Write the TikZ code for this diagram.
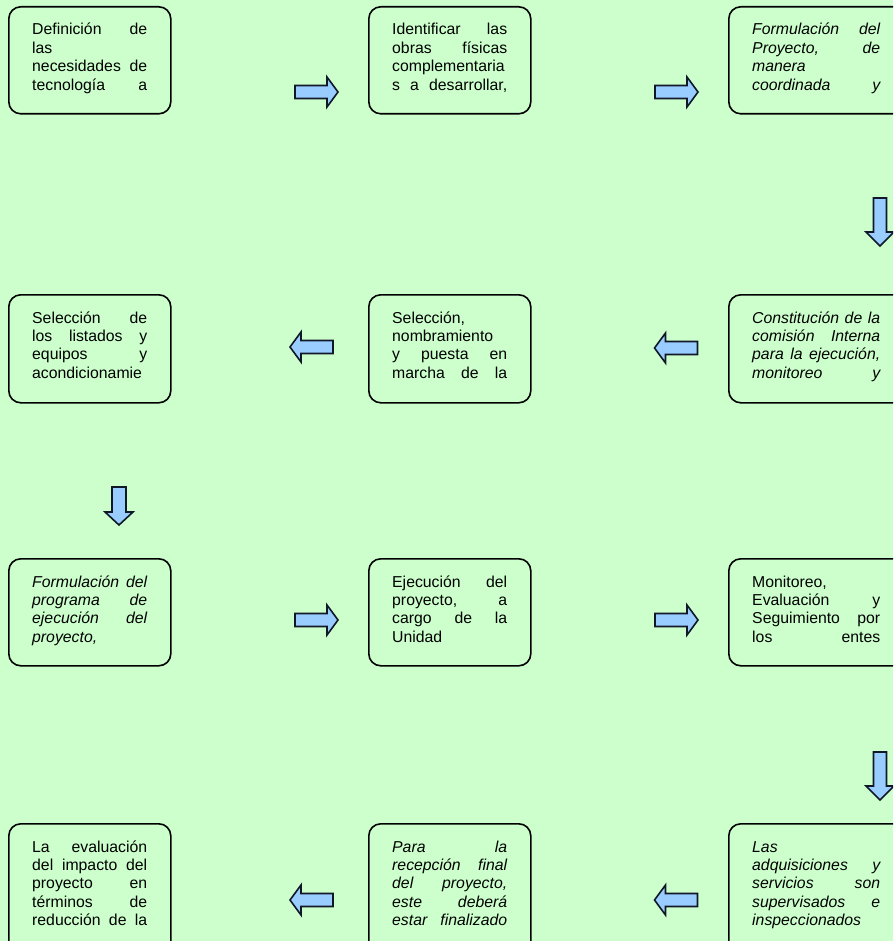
\documentclass[tikz,border=0pt]{standalone}
\usepackage{fontspec}
\setmainfont{Liberation Sans}
\definecolor{bgreen}{HTML}{CCFFCC}
\definecolor{afill}{HTML}{99CCFF}
\definecolor{aline}{HTML}{101828}
\newcommand{\jln}[1]{\makebox[115pt][s]{#1}}
\newcommand{\lln}[1]{\makebox[115pt][l]{#1}}
\newcommand{\jrn}[1]{\makebox[128pt][s]{#1}}
\newcommand{\lrn}[1]{\makebox[128pt][l]{#1}}
\tikzset{
  flowbox/.style={draw=black, line width=1.6pt, rounded corners=12pt, fill=bgreen,
    anchor=north west, inner sep=0pt, minimum width=162pt, minimum height=107pt},
  widebox/.style={flowbox, minimum width=180pt},
  txt/.style={anchor=base west, inner sep=0pt, font=\fontsize{15.8}{18.4}\selectfont},
  blockarrow/.style={draw=aline, line width=1.6pt, fill=afill, line join=miter},
  rarr/.pic={\path[blockarrow] (-21.5,-6.5) -- (10.5,-6.5) -- (10.5,-15) -- (21.5,0) -- (10.5,15) -- (10.5,6.5) -- (-21.5,6.5) -- cycle;},
  darr/.pic={\path[blockarrow] (-6.5,-24) -- (-6.5,10) -- (-14,10) -- (0,24) -- (14,10) -- (6.5,10) -- (6.5,-24) -- cycle;},
  sdarr/.pic={\path[blockarrow] (-7,-19) -- (-7,6) -- (-14,6) -- (0,19) -- (14,6) -- (7,6) -- (7,-19) -- cycle;}
}
\begin{document}
\begin{tikzpicture}[x=1pt,y=-1pt]
\useasboundingbox (0,0) rectangle (893,941);
\clip (0,0) rectangle (893,941);
\fill[bgreen] (0,0) rectangle (893,941);

% Row 1
\node[flowbox] (b1) at (8,6) {};
\node[txt] (t1) at ([xshift=24pt,yshift=-29pt]b1.north west) {\parbox[t]{115pt}{\jln{Definición de}\\\lln{las}\\\jln{necesidades de}\\\jln{tecnología a}}};
\node[flowbox] (b2) at (368,6) {};
\node[txt] (t2) at ([xshift=24pt,yshift=-29pt]b2.north west) {\parbox[t]{115pt}{\jln{Identificar las}\\\jln{obras físicas}\\\jln{complementaria}\\\jln{s a desarrollar,}}};
\node[widebox] (b3) at (728,6) {};
\node[txt] (t3) at ([xshift=24pt,yshift=-29pt]b3.north west) {\parbox[t]{128pt}{\itshape\jrn{Formulación del}\\\jrn{Proyecto, de}\\\lrn{manera}\\\jrn{coordinada y}}};

% Row 2
\node[flowbox, minimum height=108pt] (b4) at (8,294) {};
\node[txt] (t4) at ([xshift=24pt,yshift=-29pt]b4.north west) {\parbox[t]{115pt}{\jln{Selección de}\\\jln{los listados y}\\\jln{equipos y}\\\jln{acondicionamie}}};
\node[flowbox, minimum height=108pt] (b5) at (368,294) {};
\node[txt] (t5) at ([xshift=24pt,yshift=-29pt]b5.north west) {\parbox[t]{115pt}{\lln{Selección,}\\\lln{nombramiento}\\\jln{y puesta en}\\\jln{marcha de la}}};
\node[widebox, minimum height=108pt] (b6) at (728,294) {};
\node[txt] (t6) at ([xshift=24pt,yshift=-29pt]b6.north west) {\parbox[t]{128pt}{\itshape\jrn{Constitución de la}\\\jrn{comisión Interna}\\\jrn{para la ejecución,}\\\jrn{monitoreo y}}};

% Row 3
\node[flowbox] (b7) at (8,558) {};
\node[txt] (t7) at ([xshift=24pt,yshift=-29pt]b7.north west) {\parbox[t]{115pt}{\itshape\jln{Formulación del}\\\jln{programa de}\\\jln{ejecución del}\\\lln{proyecto,}}};
\node[flowbox] (b8) at (368,558) {};
\node[txt] (t8) at ([xshift=24pt,yshift=-29pt]b8.north west) {\parbox[t]{115pt}{\jln{Ejecución del}\\\jln{proyecto, a}\\\jln{cargo de la}\\\lln{Unidad}}};
\node[widebox] (b9) at (728,558) {};
\node[txt] (t9) at ([xshift=24pt,yshift=-29pt]b9.north west) {\parbox[t]{128pt}{\lrn{Monitoreo,}\\\jrn{Evaluación y}\\\jrn{Seguimiento por}\\\jrn{los entes}}};

% Row 4
\node[flowbox, minimum height=135pt] (b10) at (8,823) {};
\node[txt] (t10) at ([xshift=24pt,yshift=-29pt]b10.north west) {\parbox[t]{115pt}{\jln{La evaluación}\\\jln{del impacto del}\\\jln{proyecto en}\\\jln{términos de}\\\jln{reducción de la}}};
\node[flowbox, minimum height=135pt] (b11) at (368,823) {};
\node[txt] (t11) at ([xshift=24pt,yshift=-29pt]b11.north west) {\parbox[t]{115pt}{\itshape\jln{Para la}\\\jln{recepción final}\\\jln{del proyecto,}\\\jln{este deberá}\\\jln{estar finalizado}}};
\node[widebox, minimum height=135pt] (b12) at (728,823) {};
\node[txt] (t12) at ([xshift=24pt,yshift=-29pt]b12.north west) {\parbox[t]{128pt}{\itshape\lrn{Las}\\\jrn{adquisiciones y}\\\jrn{servicios son}\\\jrn{supervisados e}\\\lrn{inspeccionados}}};

% Arrows
\pic at (316.5,92) {rarr};
\pic at (676.5,92) {rarr};
\pic at (880,222) {darr};
\pic[xscale=-1] at (311.5,347) {rarr};
\pic[xscale=-1] at (676,348) {rarr};
\pic at (119,506) {sdarr};
\pic at (316.5,620) {rarr};
\pic at (676.5,620) {rarr};
\pic at (880,776) {darr};
\pic[xscale=-1] at (311.5,900) {rarr};
\pic[xscale=-1] at (676,900) {rarr};
\end{tikzpicture}
\end{document}
